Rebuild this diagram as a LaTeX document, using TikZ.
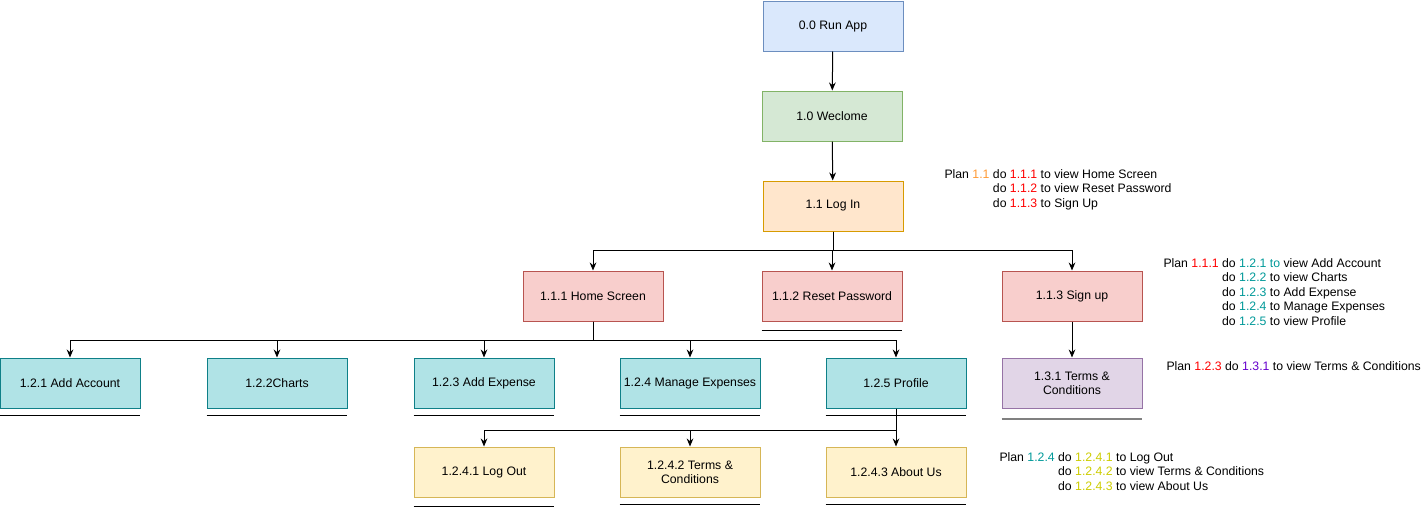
\documentclass[tikz,border=0pt]{standalone}
\usepackage{fontspec}
\setmainfont{Liberation Sans}
\usetikzlibrary{arrows.meta}
\definecolor{blueF}{HTML}{DAE8FC}\definecolor{blueD}{HTML}{6C8EBF}
\definecolor{greenF}{HTML}{D5E8D4}\definecolor{greenD}{HTML}{82B366}
\definecolor{orangeF}{HTML}{FFE6CC}\definecolor{orangeD}{HTML}{D79B00}
\definecolor{redF}{HTML}{F8CECC}\definecolor{redD}{HTML}{B85450}
\definecolor{tealF}{HTML}{B0E3E6}\definecolor{tealD}{HTML}{0E8088}
\definecolor{purpleF}{HTML}{E1D5E7}\definecolor{purpleD}{HTML}{9673A6}
\definecolor{yellowF}{HTML}{FFF2CC}\definecolor{yellowD}{HTML}{D6B656}
\definecolor{tOrange}{HTML}{FF9933}\definecolor{tRed}{HTML}{FF0000}
\definecolor{tTeal}{HTML}{009999}\definecolor{tPurple}{HTML}{6600CC}
\definecolor{tYellow}{HTML}{CCCC00}
\newcommand{\cnum}[2]{\textcolor{#1}{#2}}

\begin{document}
\begin{tikzpicture}[x=0.75pt, y=-0.75pt, line width=0.75pt,
  main/.style = {draw, minimum width=105pt, minimum height=37.5pt, align=center,
    inner sep=2pt, font=\fontsize{9.2}{10.8}\selectfont},
  blue/.style = {main, fill=blueF, draw=blueD},
  green/.style = {main, fill=greenF, draw=greenD},
  orange/.style = {main, fill=orangeF, draw=orangeD},
  red/.style = {main, fill=redF, draw=redD},
  teal/.style = {main, fill=tealF, draw=tealD},
  purple/.style = {main, fill=purpleF, draw=purpleD},
  yellow/.style = {main, fill=yellowF, draw=yellowD},
  plan/.style = {anchor=north west, inner sep=0pt, font=\fontsize{9.2}{10.8}\selectfont},
  arr/.style = {-{Stealth[length=6pt,width=5pt]}}]
\useasboundingbox (0,0) rectangle (1424,508);

% boxes
\node[blue] (n00) at (833,26) {0.0 Run App};
\node[green] (n10) at (832,116) {1.0 Weclome};
\node[orange] (n11) at (833,206) {1.1 Log In};

\node[red] (n111) at (593,296) {1.1.1 Home Screen};
\node[red] (n112) at (832,296) {1.1.2 Reset Password};
\node[red] (n113) at (1072,296) {1.1.3 Sign up};

\node[teal] (n121) at (70,383) {1.2.1 Add Account};
\node[teal] (n122) at (277,383) {1.2.2Charts};
\node[teal] (n123) at (484,383) {1.2.3 Add Expense};
\node[teal] (n124) at (690,383) {1.2.4 Manage Expenses};
\node[teal] (n125) at (896,383) {1.2.5 Profile};
\node[purple] (n131) at (1072,383) {1.3.1 Terms \&\\Conditions};

\node[yellow] (n1241) at (484,472) {1.2.4.1 Log Out};
\node[yellow] (n1242) at (690,472) {1.2.4.2 Terms \&\\Conditions};
\node[yellow] (n1243) at (896,472) {1.2.4.3 About Us};

% connectors
\draw[arr] (n00) -- (n10);
\draw[arr] (n10) -- (n11);
\foreach \t in {n111,n112,n113}
  \draw[arr] (n11.south) -- ++(0,19) -| (\t.north);
\foreach \t in {n121,n122,n123,n124,n125}
  \draw[arr] (n111.south) -- ++(0,19) -| (\t.north);
\draw[arr] (n113) -- (n131);
\foreach \t in {n1241,n1242,n1243}
  \draw[arr] (n125.south) -- ++(0,22) -| (\t.north);

% underlines
\draw (n112.south west) ++(0,9) -- ++(140,0);
\foreach \t in {n121,n122,n123,n124,n125}
  \draw (\t.south west) ++(0,7) -- ++(140,0);
\draw[gray, line width=1.5pt] (n131.south west) ++(0,10) -- ++(140,0);
\draw (n1241.south west) ++(0,9) -- ++(140,0);
\draw (n1242.south west) ++(0,7) -- ++(140,0);
\draw (n1243.south west) ++(0,7) -- ++(140,0);

% plans
\node[plan] (p11) at (944,168) {\begin{tabular}{@{}l@{\ }l@{}}
  Plan \cnum{tOrange}{1.1} & do \cnum{tRed}{1.1.1} to view Home Screen\\
  & do \cnum{tRed}{1.1.2} to view Reset Password\\
  & do \cnum{tRed}{1.1.3} to Sign Up
\end{tabular}};
\node[plan] (p111) at (1163,257) {\begin{tabular}{@{}l@{\ }l@{}}
  Plan \cnum{tRed}{1.1.1} & do \cnum{tTeal}{1.2.1 to} view Add Account\\
  & do \cnum{tTeal}{1.2.2} to view Charts\\
  & do \cnum{tTeal}{1.2.3} to Add Expense\\
  & do \cnum{tTeal}{1.2.4} to Manage Expenses\\
  & do \cnum{tTeal}{1.2.5} to view Profile
\end{tabular}};
\node[plan] (p123) at (1166,361) {Plan \cnum{tRed}{1.2.3} do \cnum{tPurple}{1.3.1} to view Terms \& Conditions};
\node[plan] (p124) at (999,451) {\begin{tabular}{@{}l@{\ }l@{}}
  Plan \cnum{tTeal}{1.2.4} & do \cnum{tYellow}{1.2.4.1} to Log Out\\
  & do \cnum{tYellow}{1.2.4.2} to view Terms \& Conditions\\
  & do \cnum{tYellow}{1.2.4.3} to view About Us
\end{tabular}};
\end{tikzpicture}
\end{document}
